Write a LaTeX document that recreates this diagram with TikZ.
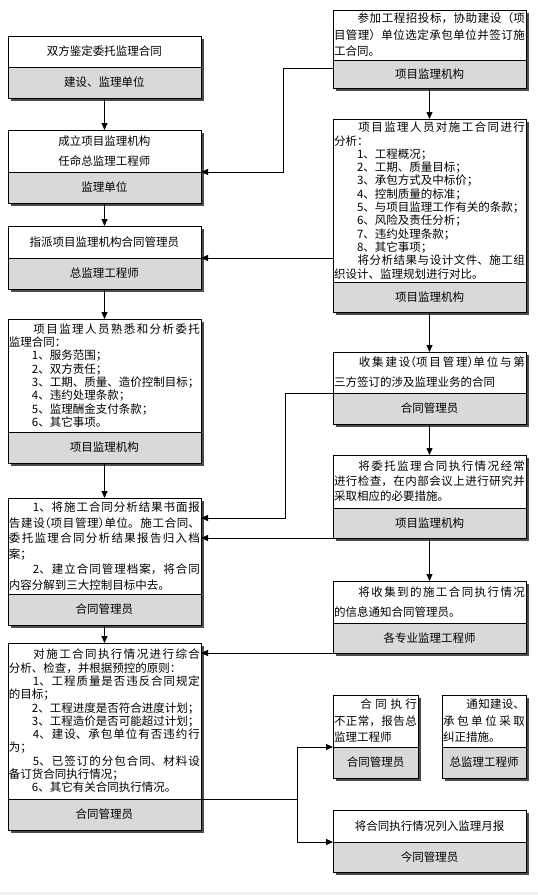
\documentclass[tikz,border=0pt]{standalone}
\usepackage{fontspec}
\setmainfont{Noto Sans CJK SC}
\newfontfamily\halffont[RawFeature=+halt]{Noto Sans CJK SC}
\usetikzlibrary{positioning,shadows,arrows.meta}

\XeTeXlinebreaklocale "zh"
\XeTeXlinebreakskip=0pt plus 2pt minus 0.3pt
\tolerance=9999
\hbadness=10000
\setlength{\parindent}{0pt}

\definecolor{boxgray}{HTML}{D9D9D9}
\newcommand\lsp[1]{\fontsize{11.5}{#1}\selectfont}
\newcommand\hp[1]{{\halffont #1}}

\tikzset{
  upbox/.style={draw, line width=0.8pt, fill=white, outer sep=0pt, inner xsep=1pt, inner ysep=0pt,
    anchor=north west, minimum width=193pt, text width=191pt, align=justify,
    drop shadow={shadow xshift=2.5pt, shadow yshift=-2.5pt, fill=black!70, opacity=1}},
  lowbox/.style={upbox, fill=boxgray, align=flush center, minimum height=31pt, font=\lsp{13}},
  arr/.style={line width=0.8pt, -{Triangle[length=7pt,width=6pt]}}
}

\begin{document}
\begin{tikzpicture}[x=1pt,y=-1pt]

\def\lx{8}
\def\rx{333}

\useasboundingbox (0,0) rectangle (538,895);
\fill[black!6] (0,892) rectangle (538,895);



%left column
\node[upbox, align=flush center, minimum height=31pt, font=\lsp{13}] (b1t) at (\lx,36) {双方鉴定委托监理合同};
\node[lowbox, below=0pt of b1t] (b1b) {建设、监理单位};

\node[upbox, align=flush center, minimum height=42pt, font=\lsp{20}] (b2t) at (\lx,130) {成立项目监理机构\\任命总监理工程师};
\node[lowbox, below=0pt of b2t] (b2b) {监理单位};

\node[upbox, align=flush center, minimum height=32pt, font=\lsp{13}] (b3t) at (\lx,226) {指派项目监理机构合同管理员};
\node[lowbox, below=0pt of b3t] (b3b) {总监理工程师};

\node[upbox, minimum height=113pt, font=\lsp{13.3}] (b4t) at (\lx,319) {　　项目监理人员熟悉和分析委托\linebreak 监理合同：\par
　　1、服务范围；\par
　　2、双方责任；\par
　　3、工期、质量、造价控制目标；\par
　　4、违约处理条款；\par
　　5、监理酬金支付条款；\par
　　6、其它事项。};
\node[lowbox, below=0pt of b4t] (b4b) {项目监理机构};

\node[upbox, minimum height=96pt, font=\lsp{15.5}] (b5t) at (\lx,498) {　　1、将施工合同分析结果书面报\linebreak 告建设\hp{（}项目管理\hp{）}单位。施工合同、\linebreak 委托监理合同分析结果报告归入档\linebreak 案；\par
　　2、建立合同管理档案，将合同\linebreak 内容分解到三大控制目标中去。};
\node[lowbox, below=0pt of b5t] (b5b) {合同管理员};

\node[upbox, minimum height=156pt, font=\lsp{13.3}] (b6t) at (\lx,643) {　　对施工合同执行情况进行综合\linebreak 分析、检查，并根据预控的原则：\par
　　1、工程质量是否违反合同规定\linebreak 的目标；\par
　　2、工程进度是否符合进度计划；\par
　　3、工程造价是否可能超过计划；\par
　　4、建设、承包单位有否违约行\linebreak 为；\par
　　5、已签订的分包合同、材料设\linebreak 备订货合同执行情况；\par
　　6、其它有关合同执行情况。};
\node[lowbox, below=0pt of b6t] (b6b) {合同管理员};



%right column
\node[upbox, minimum height=50pt, font=\lsp{16.5}] (r1t) at (\rx,10) {　　参加工程招投标，协助建设（项\linebreak 目管理）单位选定承包单位并签订施\linebreak 工合同。};
\node[lowbox, below=0pt of r1t, minimum height=28pt] (r1b) {项目监理机构};

\node[upbox, minimum height=163pt, font=\lsp{13.3}] (r2t) at (\rx,119) {　　项目监理人员对施工合同进行\linebreak 分析：\par
　　1、工程概况；\par
　　2、工期、质量目标；\par
　　3、承包方式及中标价；\par
　　4、控制质量的标准；\par
　　5、与项目监理工作有关的条款；\par
　　6、风险及责任分析；\par
　　7、违约处理条款；\par
　　8、其它事项；\par
　　将分析结果与设计文件、施工组\linebreak 织设计、监理规划进行对比。};
\node[lowbox, below=0pt of r2t, minimum height=30pt] (r2b) {项目监理机构};

\node[upbox, minimum height=41pt, font=\lsp{20}] (r3t) at (\rx,352) {　　收集建设\hp{（}项目管理\hp{）}单位与第\linebreak 三方签订的涉及监理业务的合同};
\node[lowbox, below=0pt of r3t] (r3b) {合同管理员};

\node[upbox, minimum height=53pt, font=\lsp{15}] (r4t) at (\rx,455) {　　将委托监理合同执行情况经常\linebreak 进行检查，在内部会议上进行研究并\linebreak 采取相应的必要措施。};
\node[lowbox, below=0pt of r4t, minimum height=30pt] (r4b) {项目监理机构};

\node[upbox, minimum height=42pt, font=\lsp{20}] (r5t) at (\rx,581) {　　将收集到的施工合同执行情况\linebreak 的信息通知合同管理员。};
\node[lowbox, below=0pt of r5t, minimum height=30pt] (r5b) {各专业监理工程师};

\node[upbox, minimum width=85pt, text width=83pt, minimum height=52pt, font=\lsp{16.5}] (r6t) at (\rx,695) {　　合同执行\linebreak 不正常，报告总\linebreak 监理工程师};
\node[lowbox, minimum width=85pt, text width=83pt, below=0pt of r6t] (r6b) {合同管理员};

\node[upbox, minimum width=84pt, text width=82pt, minimum height=52pt, font=\lsp{16.5}] (r7t) at (442,695) {　　通知建设、\linebreak 承包单位采取\linebreak 纠正措施。};
\node[lowbox, minimum width=84pt, text width=82pt, below=0pt of r7t] (r7b) {总监理工程师};

\node[upbox, align=flush center, minimum height=32pt, font=\lsp{13}] (r8t) at (\rx,810) {将合同执行情况列入监理月报};
\node[lowbox, below=0pt of r8t, minimum height=30pt] (r8b) {今同管理员};



%down arrows
\draw[arr] (b1b.south) -- (b2t.north);
\draw[arr] (b2b.south) -- (b3t.north);
\draw[arr] (b3b.south) -- (b4t.north);
\draw[arr] (b4b.south) -- (b5t.north);
\draw[arr] (b5b.south) -- (b6t.north);

\draw[arr] (r1b.south) -- (r2t.north);
\draw[arr] (r2b.south) -- (r3t.north);
\draw[arr] (r3b.south) -- (r4t.north);
\draw[arr] (r4b.south) -- (r5t.north);



%cross links
\draw[arr] ([yshift=-8pt]r1b.north west) -- ++(-50,0) |- (b2t.south east);
\draw[arr] (r2t.west |- b3t.south east) -- (b3t.south east);
\draw[arr] (r3t.south west) -- ++(-48,0) |- ([yshift=-20pt]b5t.north east);
\draw[arr] (r4b.south west) -- (r4b.south west -| b5t.east);
\draw[arr] (r5b.south west) -- (r5b.south west -| b6t.east);

\draw[arr] (b6t.south east) -- ++(96,0) |- (r6t.south west);
\draw[arr] (b6t.south east) -- ++(96,0) |- (r8t.south west);


\end{tikzpicture}
\end{document}
